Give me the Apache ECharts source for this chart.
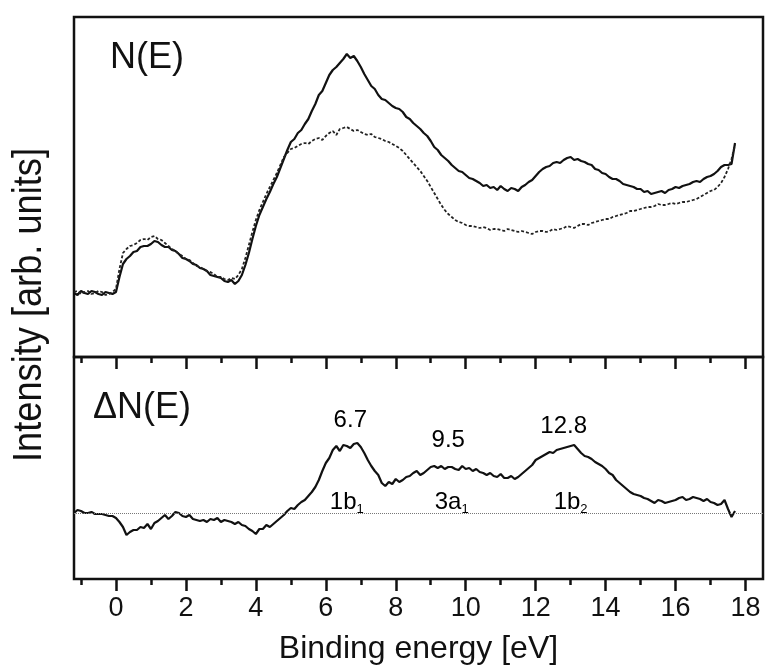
<!DOCTYPE html>
<html>
<head>
<meta charset="utf-8">
<title>N(E) and ΔN(E)</title>
<script src="https://cdn.jsdelivr.net/npm/echarts@6/dist/echarts.min.js"></script>
<style>
  html, body { margin: 0; padding: 0; background: #fff; }
  #chart { width: 766px; height: 669px; }
</style>
</head>
<body>
<div id="chart"></div>
<script>
/* N(E) / ΔN(E) spectra — two stacked panels sharing the energy axis */

const FONT = "'Liberation Sans', Arial, sans-serif";
const INK  = "#111";

// ---------------------------------------------------------------------------
// Data (arbitrary units)
// ---------------------------------------------------------------------------
const energy = [
  -1.2, -1.1, -1.0, -0.9, -0.8, -0.7, -0.6, -0.5, -0.4, -0.3, -0.2, -0.1,
  0.0, 0.1, 0.2, 0.3, 0.4, 0.5, 0.6, 0.7, 0.8, 0.9, 1.0, 1.1, 1.2, 1.3, 1.4, 1.5, 1.6, 1.7, 1.8, 1.9,
  2.0, 2.1, 2.2, 2.3, 2.4, 2.5, 2.6, 2.7, 2.8, 2.9, 3.0, 3.1, 3.2, 3.3, 3.4, 3.5, 3.6, 3.7, 3.8, 3.9,
  4.0, 4.1, 4.2, 4.3, 4.4, 4.5, 4.6, 4.7, 4.8, 4.9, 5.0, 5.1, 5.2, 5.3, 5.4, 5.5, 5.6, 5.7, 5.8, 5.9,
  6.0, 6.1, 6.2, 6.3, 6.4, 6.5, 6.6, 6.7, 6.8, 6.9, 7.0, 7.1, 7.2, 7.3, 7.4, 7.5, 7.6, 7.7, 7.8, 7.9,
  8.0, 8.1, 8.2, 8.3, 8.4, 8.5, 8.6, 8.7, 8.8, 8.9, 9.0, 9.1, 9.2, 9.3, 9.4, 9.5, 9.6, 9.7, 9.8, 9.9,
  10.0, 10.1, 10.2, 10.3, 10.4, 10.5, 10.6, 10.7, 10.8, 10.9, 11.0, 11.1, 11.2, 11.3, 11.4, 11.5, 11.6, 11.7, 11.8, 11.9,
  12.0, 12.1, 12.2, 12.3, 12.4, 12.5, 12.6, 12.7, 12.8, 12.9, 13.0, 13.1, 13.2, 13.3, 13.4, 13.5, 13.6, 13.7, 13.8, 13.9,
  14.0, 14.1, 14.2, 14.3, 14.4, 14.5, 14.6, 14.7, 14.8, 14.9, 15.0, 15.1, 15.2, 15.3, 15.4, 15.5, 15.6, 15.7, 15.8, 15.9,
  16.0, 16.1, 16.2, 16.3, 16.4, 16.5, 16.6, 16.7, 16.8, 16.9, 17.0, 17.1, 17.2, 17.3, 17.4, 17.5, 17.6, 17.7
];

// top panel, solid curve
const nSolid = [
  64, 62, 66, 64, 63, 66, 65, 63, 62, 65, 64, 63,
  65, 80, 93, 98, 101, 105, 106, 110, 111, 111, 113, 116, 115, 112, 110, 110, 107, 106, 103, 99,
  98, 96, 93, 92, 89, 88, 86, 82, 81, 80, 79, 76, 75, 77, 73, 76, 82, 92, 104, 118,
  131, 142, 150, 158, 165, 173, 180, 189, 198, 207, 215, 218, 224, 227, 233, 238, 246, 253, 262, 266,
  274, 282, 287, 290, 294, 298, 303, 299, 301, 296, 290, 283, 277, 271, 268, 262, 258, 257, 254, 251,
  249, 248, 245, 240, 238, 234, 231, 228, 224, 221, 216, 210, 207, 202, 199, 196, 192, 189, 186, 185,
  182, 179, 178, 176, 174, 171, 172, 169, 170, 167, 171, 168, 166, 169, 168, 166, 170, 172, 175, 177,
  181, 185, 188, 190, 191, 194, 195, 194, 197, 199, 200, 197, 198, 196, 195, 193, 192, 188, 187, 184,
  183, 180, 178, 178, 176, 173, 172, 171, 170, 168, 168, 165, 166, 163, 164, 165, 166, 164, 167, 168,
  170, 169, 171, 172, 173, 175, 176, 175, 178, 180, 181, 183, 186, 190, 192, 192, 193, 214
];

// top panel, dashed curve
const nDashed = [
  65, 66, 63, 65, 66, 63, 64, 66, 65, 62, 63, 65,
  68, 88, 104, 108, 111, 112, 114, 117, 118, 117, 120, 121, 118, 117, 114, 111, 108, 106, 103, 101,
  98, 97, 94, 91, 90, 88, 86, 85, 83, 80, 80, 78, 77, 79, 78, 82, 88, 99, 112, 125,
  137, 147, 155, 163, 170, 177, 184, 192, 200, 204, 208, 209, 211, 213, 214, 213, 216, 218, 219, 217,
  221, 224, 226, 222, 228, 229, 230, 228, 226, 227, 225, 223, 222, 223, 220, 219, 218, 216, 215, 213,
  211, 209, 206, 202, 198, 194, 190, 186, 181, 176, 170, 164, 158, 152, 147, 143, 140, 137, 135, 134,
  132, 131, 131, 130, 129, 130, 129, 127, 128, 128, 127, 126, 128, 127, 126, 125, 126, 125, 124, 123,
  125, 126, 126, 125, 126, 128, 127, 128, 129, 131, 130, 129, 131, 133, 133, 132, 134, 135, 136, 137,
  138, 138, 140, 141, 142, 143, 144, 146, 146, 147, 148, 149, 150, 150, 151, 153, 152, 152, 153, 154,
  153, 154, 155, 155, 156, 157, 158, 160, 162, 164, 166, 167, 170, 174, 180, 188, 198, 212
];

// bottom panel, difference spectrum
const deltaN = [
  0, 3, 2, 0, 0, 1, -1, -1, -1, -2, -3, -3,
  -5, -9, -14, -22, -19, -17, -17, -14, -15, -11, -16, -10, -8, -5, -2, -6, -3, 1, 0, -3,
  -4, -2, -6, -7, -8, -7, -9, -6, -7, -5, -9, -7, -8, -9, -11, -9, -12, -13, -16, -18,
  -21, -16, -16, -12, -14, -11, -8, -5, -2, 2, 5, 4, 8, 11, 13, 17, 21, 26, 33, 42,
  50, 55, 63, 67, 62, 68, 67, 65, 69, 70, 66, 60, 53, 47, 42, 38, 30, 27, 31, 29,
  34, 31, 33, 36, 37, 40, 42, 38, 40, 43, 46, 47, 45, 47, 44, 46, 46, 44, 43, 47,
  44, 45, 42, 44, 41, 40, 38, 40, 37, 36, 39, 35, 35, 37, 34, 36, 39, 42, 45, 48,
  53, 55, 57, 59, 61, 60, 63, 64, 65, 66, 67, 68, 64, 60, 57, 56, 54, 51, 49, 47,
  44, 40, 38, 33, 30, 27, 24, 21, 19, 18, 17, 15, 14, 12, 10, 13, 12, 10, 11, 12,
  13, 15, 16, 13, 14, 16, 15, 14, 12, 14, 11, 10, 8, 9, 13, 4, -4, 2
];

const majorTicks = [0, 2, 4, 6, 8, 10, 12, 14, 16, 18];
const minorTicks = [-1, 1, 3, 5, 7, 9, 11, 13, 15, 17];

// peak energies and orbital assignments
const peakLabels  = [[6.7, 93, "6.7"], [9.5, 73, "9.5"], [12.8, 87, "12.8"]];
const orbitLabels = [[6.6, 11, "1b{s|1}"], [9.6, 11, "3a{s|1}"], [13.0, 11, "1b{s|2}"]];

// ---------------------------------------------------------------------------
// Chart
// ---------------------------------------------------------------------------
const chart = echarts.init(document.getElementById("chart"), null, { renderer: "canvas" });

const pairs = (ys) => energy.map((e, i) => [e, ys[i]]);

function tickAxis(gridIndex, values, len, withLabels) {
  return {
    type: "value",
    gridIndex,
    min: -1.2,
    max: 18.5,
    position: "bottom",
    axisLine: { show: false, onZero: false },
    splitLine: { show: false },
    axisTick: {
      show: true,
      customValues: values,
      length: len,
      lineStyle: { color: INK, width: 2.5 },
    },
    axisLabel: withLabels
      ? { show: true, customValues: values, color: INK, fontFamily: FONT, fontSize: 27, margin: 16 }
      : { show: false },
  };
}

const xTitle = tickAxis(1, majorTicks, 12, true);
xTitle.name = "Binding energy [eV]";
xTitle.nameLocation = "middle";
xTitle.nameGap = 54;
xTitle.nameTextStyle = { color: INK, fontFamily: FONT, fontSize: 32, verticalAlign: "top" };

const hiddenY = (gridIndex, min, max) => ({
  type: "value", gridIndex, min, max,
  axisLine: { show: false, onZero: false }, axisTick: { show: false },
  axisLabel: { show: false }, splitLine: { show: false },
});

const labelSeries = (items, fontSize) => ({
  type: "scatter",
  xAxisIndex: 2,
  yAxisIndex: 1,
  symbolSize: 0,
  silent: true,
  itemStyle: { color: INK, opacity: 1 },
  data: items.map((p) => ({ value: [p[0], p[1]], name: p[2] })),
  label: {
    show: true,
    position: "inside",
    formatter: (d) => d.name,
    color: "#000",
    opacity: 1,
    textBorderWidth: 0,
    fontFamily: FONT,
    fontSize,
    rich: { s: { fontFamily: FONT, fontSize: 13, color: "#000", verticalAlign: "bottom", padding: [14, 0, 0, 0] } },
  },
});

const option = {
  backgroundColor: "#fff",
  animation: false,
  grid: [
    { left: 74, top: 17, width: 689, height: 340, show: true, borderColor: INK, borderWidth: 2.5, backgroundColor: "transparent" },
    { left: 74, top: 357, width: 689, height: 222, show: true, borderColor: INK, borderWidth: 2.5, backgroundColor: "transparent" },
  ],
  xAxis: [
    tickAxis(0, majorTicks, 12, false),
    tickAxis(0, minorTicks, 6, false),
    xTitle,
    tickAxis(1, minorTicks, 6, false),
  ],
  yAxis: [hiddenY(0, 0, 340), hiddenY(1, -66, 156)],
  graphic: [
    { type: "text", x: 110, y: 40, style: { text: "N(E)", fill: INK, font: `36px ${FONT}` } },
    { type: "text", x: 93, y: 390, style: { text: "ΔN(E)", fill: INK, font: `36px ${FONT}` } },
    {
      type: "text", x: 30, y: 305, rotation: Math.PI / 2, scaleX: 0.905,
      style: { text: "Intensity [arb. units]", fill: INK, font: `40px ${FONT}`, align: "center", verticalAlign: "middle" },
    },
  ],
  series: [
    {
      name: "N(E) solid", type: "line", xAxisIndex: 0, yAxisIndex: 0,
      data: pairs(nSolid), showSymbol: false,
      lineStyle: { color: INK, width: 2.2 },
    },
    {
      name: "N(E) dashed", type: "line", xAxisIndex: 0, yAxisIndex: 0,
      data: pairs(nDashed), showSymbol: false,
      lineStyle: { color: "#222", width: 1.8, type: [3, 2] },
    },
    {
      name: "ΔN(E)", type: "line", xAxisIndex: 2, yAxisIndex: 1,
      data: pairs(deltaN), showSymbol: false,
      lineStyle: { color: INK, width: 2.2 },
      markLine: {
        silent: true, symbol: "none", label: { show: false },
        lineStyle: { color: "#777", width: 1, type: "dotted" },
        data: [{ yAxis: 0 }],
      },
    },
    labelSeries(peakLabels, 24),
    labelSeries(orbitLabels, 24),
  ],
};

chart.setOption(option);
</script>
</body>
</html>
